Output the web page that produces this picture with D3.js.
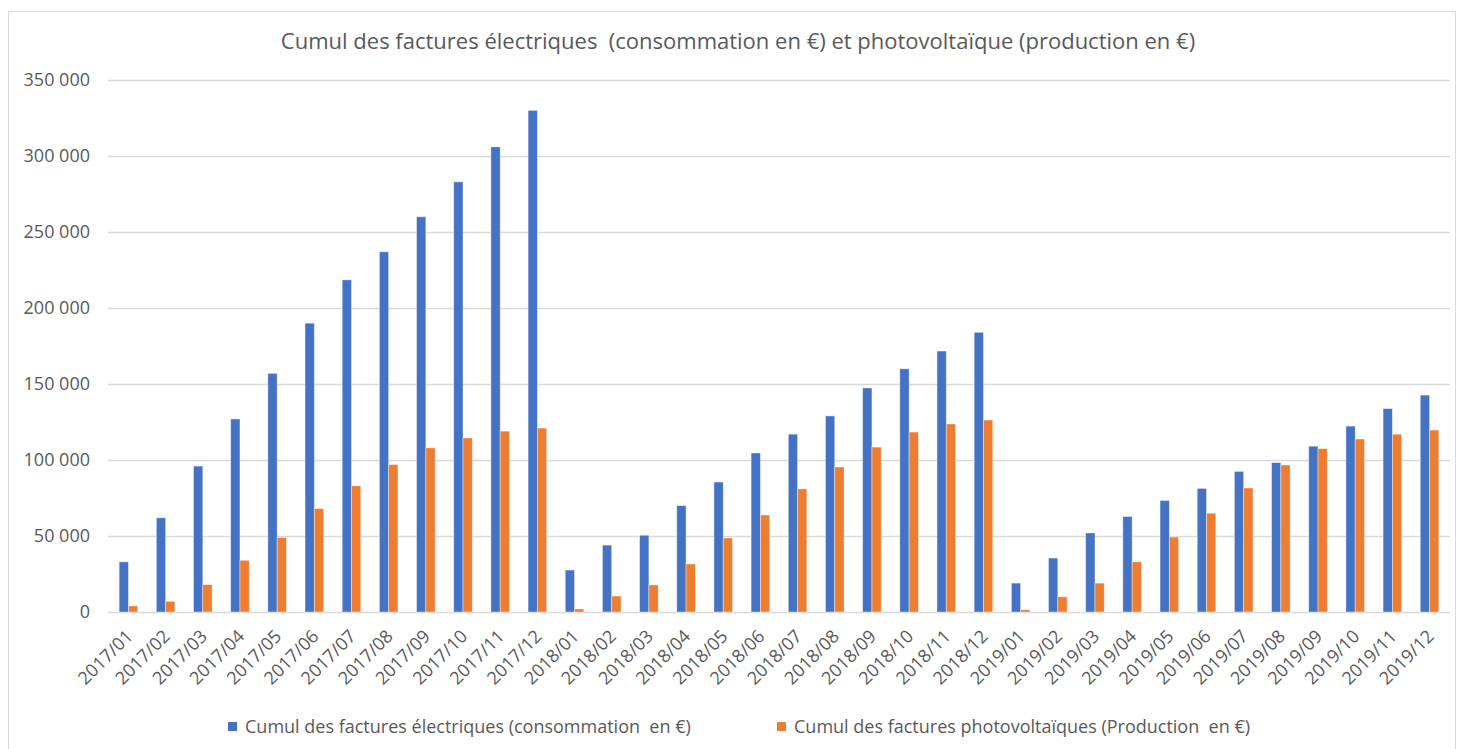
<!DOCTYPE html>
<html lang="fr">
<head>
    <meta charset="UTF-8">
    <title>Cumul des factures</title>
    <script src="https://d3js.org/d3.v7.min.js"></script>
    <style>
        body { margin: 0; background: #fff; }
        text { font-family: "Open Sans", "Liberation Sans", sans-serif; fill: #595959; white-space: pre; }
        .title { font-size: 22px; }
        .tick-y { font-size: 18px; }
        .tick-x { font-size: 18px; }
        .legend-label { font-size: 18px; }
    </style>
</head>
<body>
    <svg width="1464" height="749"></svg>

    <script>
        const months = [
            "2017/01","2017/02","2017/03","2017/04","2017/05","2017/06","2017/07","2017/08","2017/09","2017/10","2017/11","2017/12",
            "2018/01","2018/02","2018/03","2018/04","2018/05","2018/06","2018/07","2018/08","2018/09","2018/10","2018/11","2018/12",
            "2019/01","2019/02","2019/03","2019/04","2019/05","2019/06","2019/07","2019/08","2019/09","2019/10","2019/11","2019/12"
        ];

        // cumul consommation (€)
        const consommation = [
            33000, 62000, 96000, 127000, 157000, 190000, 218500, 237000, 260000, 283000, 306000, 330000,
            27600, 44000, 50500, 70000, 85500, 104600, 117000, 129000, 147400, 160000, 171700, 184000,
            19000, 35500, 52000, 62800, 73400, 81300, 92500, 98300, 109100, 122300, 133800, 142700
        ];

        // cumul production photovoltaique (€)
        const production = [
            4000, 7000, 18000, 34000, 49000, 68000, 83000, 97000, 108000, 114500, 119000, 121000,
            2000, 10500, 17800, 31600, 48700, 63800, 81000, 95400, 108500, 118400, 123700, 126300,
            1500, 10000, 19000, 33000, 49300, 65000, 81600, 96700, 107500, 113800, 117000, 119700
        ];

        const yTicks = [0, 50000, 100000, 150000, 200000, 250000, 300000, 350000];

        const seriesNames = [
            "Cumul des factures électriques (consommation  en €)",
            "Cumul des factures photovoltaïques (Production  en €)"
        ];
        const colors = ["#4472C4", "#ED7D31"];

        const svg = d3.select("svg");

        // chart frame
        svg.append("rect")
            .attr("x", 8.5).attr("y", 11.5)
            .attr("width", 1447).attr("height", 760)
            .attr("fill", "none")
            .attr("stroke", "#d9d9d9");

        svg.append("text")
            .attr("class", "title")
            .attr("x", 738).attr("y", 49)
            .attr("text-anchor", "middle")
            .text("Cumul des factures électriques  (consommation en €) et photovoltaïque (production en €)");

        const x = d3.scaleBand()
            .domain(months)
            .range([108, 1450])
            .paddingInner(0.5)
            .paddingOuter(0.3);

        const xs = d3.scaleBand()
            .domain([0, 1])
            .range([0, x.bandwidth()]);

        const y = d3.scaleLinear()
            .domain([0, 350000])
            .range([612, 80]);

        // gridlines
        svg.append("g")
            .selectAll("line")
            .data(yTicks)
            .join("line")
            .attr("x1", 108).attr("x2", 1450)
            .attr("y1", d => Math.round(y(d)) + 0.5)
            .attr("y2", d => Math.round(y(d)) + 0.5)
            .attr("stroke", "#d9d9d9")
            .attr("stroke-width", 1.3);

        const fmt = d => d === 0 ? "0" : d3.format(",")(d).replace(/,/g, " ");

        svg.append("g")
            .selectAll("text")
            .data(yTicks)
            .join("text")
            .attr("class", "tick-y")
            .attr("x", 90)
            .attr("y", d => y(d))
            .attr("dy", "0.35em")
            .attr("text-anchor", "end")
            .text(fmt);

        // bars
        const rows = months.map((m, i) => ({ m, vals: [consommation[i], production[i]] }));

        const groups = svg.append("g")
            .selectAll("g")
            .data(rows)
            .join("g")
            .attr("transform", d => `translate(${x(d.m)},0)`);

        groups.selectAll("rect")
            .data(d => d.vals.map((v, k) => ({ v, k })))
            .join("rect")
            .attr("x", d => xs(d.k))
            .attr("width", xs.bandwidth())
            .attr("y", d => y(d.v))
            .attr("height", d => y(0) - y(d.v))
            .attr("fill", d => colors[d.k])
            .attr("stroke", "#fff")
            .attr("stroke-opacity", 0.5)
            .attr("stroke-width", 0.8);

        // x labels
        svg.append("g")
            .selectAll("text")
            .data(months)
            .join("text")
            .attr("class", "tick-x")
            .attr("text-anchor", "end")
            .attr("transform", d => `translate(${x(d) + x.bandwidth() / 2 + 1},${633}) rotate(-45)`)
            .attr("dy", "0.35em")
            .text(d => d);

        // legend
        const legendX = [228, 777];
        const legend = svg.append("g")
            .selectAll("g")
            .data(seriesNames)
            .join("g")
            .attr("transform", (d, i) => `translate(${legendX[i]},727)`);

        legend.append("rect")
            .attr("x", 0).attr("y", -5)
            .attr("width", 9).attr("height", 9)
            .attr("fill", (d, i) => colors[i]);

        legend.append("text")
            .attr("class", "legend-label")
            .attr("x", 17)
            .attr("dy", "0.35em")
            .text(d => d);
    </script>
</body>
</html>
